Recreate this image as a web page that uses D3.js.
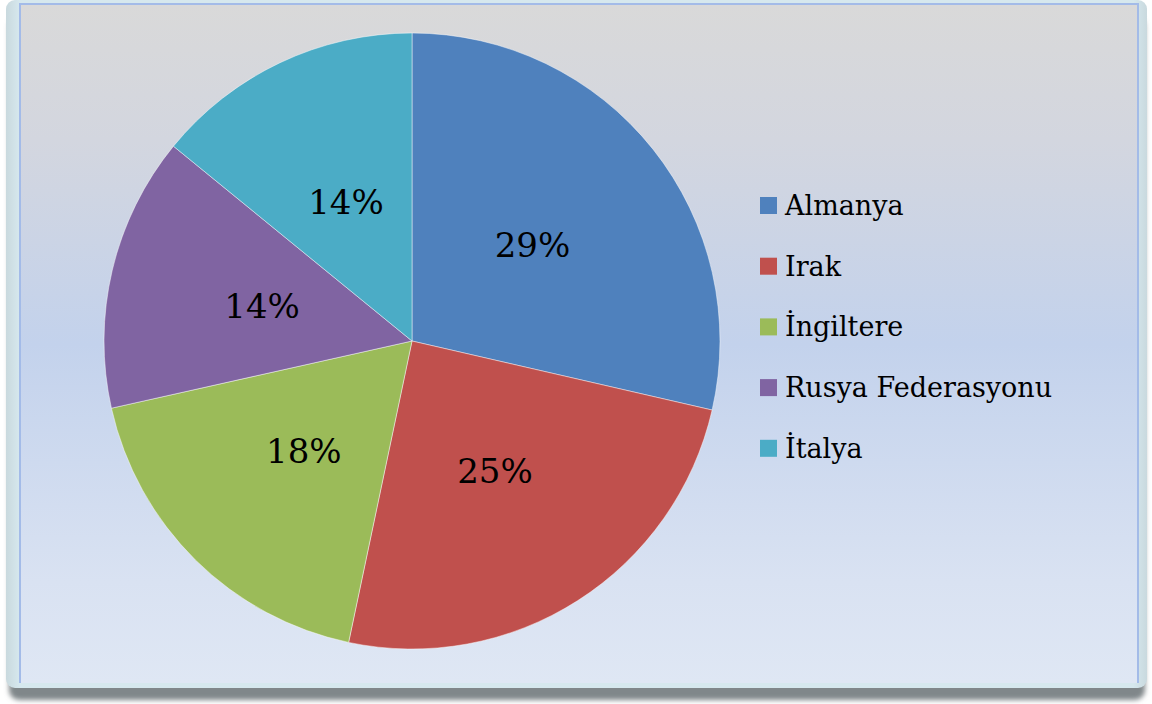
<!DOCTYPE html>
<html>
<head>
<meta charset="utf-8">
<script src="https://cdn.jsdelivr.net/npm/d3@7"></script>
<style>
  html, body { margin: 0; padding: 0; background: #ffffff; }
  svg { display: block; }
</style>
</head>
<body>
<svg id="chart" width="1152" height="704"></svg>
<script>
// Data
const categories = ["Almanya", "Irak", "İngiltere", "Rusya Federasyonu", "İtalya"];
const values = [28.6, 24.7, 18.2, 14.4, 14.1];
const colors = ["#4f81bd", "#c0504d", "#9bbb59", "#8064a2", "#4bacc6"];

const svg = d3.select("#chart");
const defs = svg.append("defs");

// Background gradient
const bg = defs.append("linearGradient").attr("id", "bg")
  .attr("x1", 0).attr("y1", 0).attr("x2", 0).attr("y2", 1);
[[0, "#d9d9d9"], [0.2, "#d3d6df"], [0.5, "#c3d2ec"], [0.85, "#d9e2f2"], [1, "#dfe7f4"]]
  .forEach(([o, c]) => bg.append("stop").attr("offset", o).attr("stop-color", c));

const frame = defs.append("linearGradient").attr("id", "frame")
  .attr("x1", 0).attr("y1", 0).attr("x2", 1).attr("y2", 0);
[[0, "#c9d9de"], [0.012, "#d6e8ee"], [0.988, "#d6e8ee"], [1, "#c9d9de"]]
  .forEach(([o, c]) => frame.append("stop").attr("offset", o).attr("stop-color", c));

const blur = defs.append("filter").attr("id", "blur")
  .attr("x", "-5%").attr("y", "-5%").attr("width", "110%").attr("height", "110%");
blur.append("feGaussianBlur").attr("stdDeviation", 2.5);

// Shadow and frame
svg.append("rect").attr("x", 9).attr("y", 16).attr("width", 1136).attr("height", 684)
  .attr("rx", 10).attr("fill", "#80878a").attr("filter", "url(#blur)");
svg.append("rect").attr("x", 6).attr("y", 0).attr("width", 1141).attr("height", 688)
  .attr("rx", 9).attr("fill", "url(#frame)");
svg.append("rect").attr("x", 20).attr("y", 4).attr("width", 1118).attr("height", 679)
  .attr("fill", "url(#bg)");
svg.append("path").attr("d", "M20,683 V4 H1138 V683")
  .attr("fill", "none").attr("stroke", "#a3bbe8").attr("stroke-width", 2);

// Pie
const cx = 412, cy = 341, r = 308;
const total = d3.sum(values);
const data = categories.map((c, i) => ({ name: c, value: values[i], color: colors[i] }));
const pie = d3.pie().value(d => d.value).sort(null);
const arc = d3.arc().innerRadius(0).outerRadius(r);
const arcs = pie(data);

const g = svg.append("g").attr("transform", `translate(${cx},${cy})`);
g.selectAll("path.slice").data(arcs).join("path")
  .attr("class", "slice")
  .attr("d", arc)
  .attr("fill", d => d.data.color)
  .attr("stroke", "rgba(255,255,255,0.45)")
  .attr("stroke-width", 1);

const fmt = d3.format(".0%");
g.selectAll("text.lbl").data(arcs).join("text")
  .attr("class", "lbl")
  .attr("x", d => arc.centroid(d)[0])
  .attr("y", d => arc.centroid(d)[1])
  .attr("dy", "0.36em")
  .attr("text-anchor", "middle")
  .attr("font-family", "'DejaVu Serif', serif")
  .attr("font-size", 34)
  .attr("fill", "#000")
  .text(d => fmt(d.data.value / total));

// Legend
const lg = svg.append("g").attr("transform", "translate(760,197)");
const rows = lg.selectAll("g").data(data).join("g")
  .attr("transform", (d, i) => `translate(0,${i * 60.7})`);
rows.append("rect").attr("width", 17).attr("height", 17).attr("fill", d => d.color);
rows.append("text")
  .attr("x", 25).attr("y", 18)
  .attr("font-family", "'DejaVu Serif', serif")
  .attr("font-size", 27)
  .attr("fill", "#000")
  .text(d => d.name);
</script>
</body>
</html>
